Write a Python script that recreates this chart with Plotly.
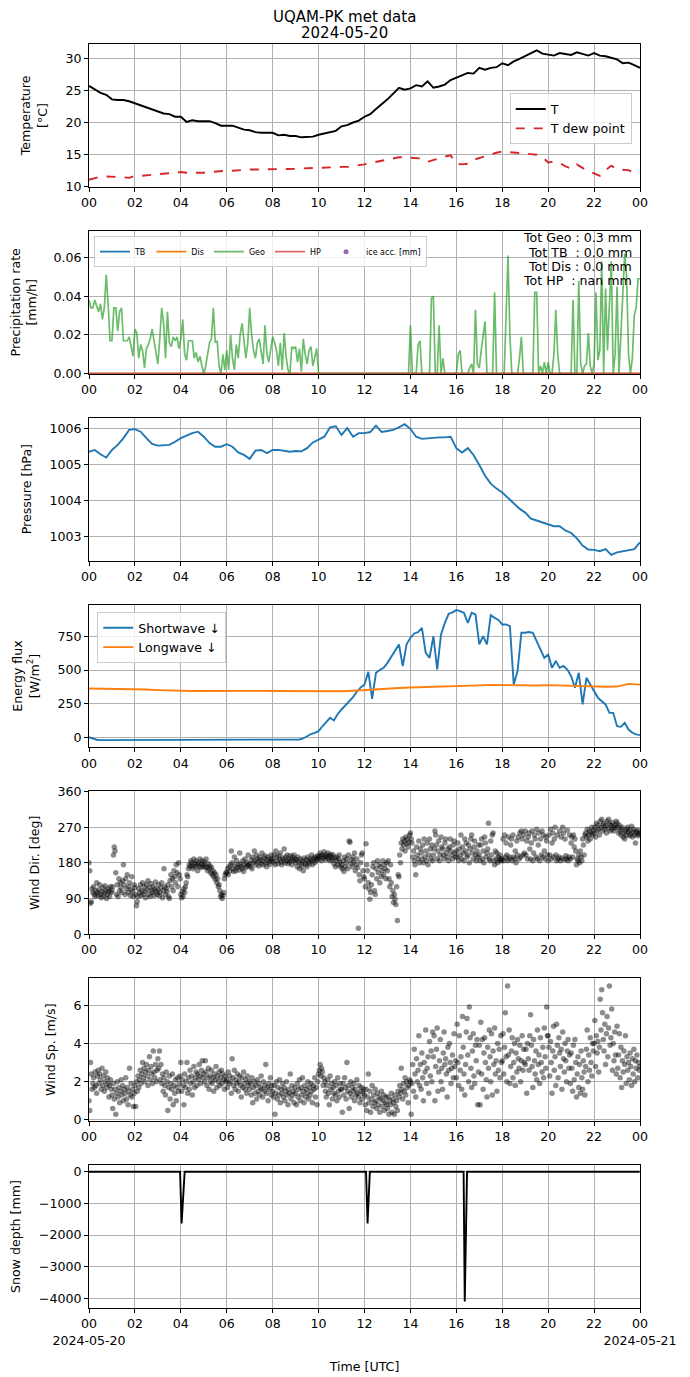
import pandas as pd
import plotly.graph_objects as go
from plotly.subplots import make_subplots

day = "2024-05-20"
next_day = "2024-05-21"
tick_hours = ["00", "02", "04", "06", "08", "10", "12", "14", "16", "18", "20", "22", "00"]

# temperature, 15 min steps
temp = [25.7, 25.1, 24.6, 24.3, 23.6, 23.5, 23.5, 23.3, 23.0, 22.7, 22.3, 22.1,
        21.75, 21.4, 21.3, 20.9, 20.9, 20.1, 20.35, 20.2, 20.2, 20.2, 19.9, 19.5,
        19.5, 19.5, 19.2, 18.9, 18.8, 18.5, 18.4, 18.4, 18.4, 18.0, 18.1, 17.9,
        17.9, 17.7, 17.7, 17.8, 18.1, 18.3, 18.5, 18.7, 19.4, 19.6, 20.0, 20.3,
        20.9, 21.3, 22.1, 22.8, 23.6, 24.5, 25.4, 25.1, 25.3, 25.8, 25.6, 26.4,
        25.4, 25.6, 25.9, 26.6, 27.0, 27.3, 27.7, 27.6, 28.5, 28.2, 28.5, 28.6,
        29.2, 28.9, 29.5, 29.9, 30.3, 30.7, 31.2, 30.7, 30.5, 30.4, 30.8, 30.6,
        30.5, 30.9, 30.6, 30.4, 30.8, 30.4, 30.3, 30.0, 29.8, 29.2, 29.3, 28.9, 28.5]
dew_point = [11.1, 11.4, 11.6, 11.6, 11.6, 11.5, 11.5, 11.4, 11.7, 11.7, 11.8, 11.8,
             12.0, 12.1, 12.2, 12.2, 12.3, 12.2, 12.2, 12.1, 12.2, 12.3, 12.4, 12.4,
             12.5, 12.5, 12.6, 12.6, 12.7, 12.7, 12.7, 12.7, 12.75, 12.8, 12.8, 12.8,
             12.8, 12.85, 12.9, 12.9, 13.0, 12.95, 13.0, 13.05, 13.1, 13.1, 13.2, 13.3,
             13.5, 13.7, 13.9, 14.1, 14.3, 14.5, 14.6, 14.6, 14.5, 14.4, 14.4, 13.9,
             14.2, 14.4, 14.7, 14.9, 13.6, 13.5, 13.6, 14.2, 14.5, 14.8, 15.0, 15.3,
             15.5, 15.4, 15.4, 15.2, 15.2, 15.0, 15.0, 14.6, 13.8, 13.9, 13.7, 13.2,
             12.8, 13.5, 13.0, 12.4, 12.1, 11.7, 12.6, 13.3, 12.7, 12.6, 12.6, 12.2, 12.3]

# geonor precipitation rate, 5 min steps (one row per hour)
precip_geo = [
    0.038, 0.034, 0.034, 0.038, 0.035, 0.032, 0.036, 0.028, 0.034, 0.051, 0.036, 0.017,
    0.017, 0.034, 0.034, 0.022, 0.032, 0.034, 0.017, 0.017, 0.017, 0.019, 0.013, 0.009,
    0.023, 0.021, 0.008, 0.015, 0.012, 0.003, 0.013, 0.015, 0.018, 0.023, 0.017, 0.010,
    0.005, 0.018, 0.034, 0.026, 0.008, 0.032, 0.016, 0.014, 0.019, 0.017, 0.019, 0.013,
    0.018, 0.028, 0.010, 0.007, 0.017, 0.017, 0.017, 0.008, 0.011, 0.006, 0.009, 0.004,
    0.000, 0.004, 0.010, 0.016, 0.018, 0.034, 0.016, 0.017, 0.004, 0.000, 0.010, 0.002,
    0.012, 0.002, 0.020, 0.008, 0.002, 0.015, 0.008, 0.020, 0.026, 0.018, 0.008, 0.016,
    0.034, 0.020, 0.012, 0.008, 0.016, 0.018, 0.010, 0.005, 0.025, 0.010, 0.006, 0.012,
    0.019, 0.016, 0.012, 0.004, 0.016, 0.002, 0.021, 0.009, 0.002, 0.000, 0.014, 0.013,
    0.014, 0.006, 0.013, 0.001, 0.018, 0.010, 0.005, 0.012, 0.014, 0.004, 0.008, 0.013,
    0.0, 0.0, 0.0, 0.0, 0.0, 0.0, 0.0, 0.0, 0.0, 0.0, 0.0, 0.0,
    0.0, 0.0, 0.0, 0.0, 0.0, 0.0, 0.0, 0.0, 0.0, 0.0, 0.0, 0.0,
    0.0, 0.0, 0.0, 0.0, 0.0, 0.0, 0.0, 0.0, 0.0, 0.0, 0.0, 0.0,
    0.0, 0.0, 0.0, 0.0, 0.0, 0.0, 0.0, 0.0, 0.0, 0.0, 0.0, 0.0,
    0.025, 0.0, 0.0, 0.0, 0.015, 0.017, 0.0, 0.0, 0.0, 0.0, 0.0, 0.039,
    0.040, 0.0, 0.0, 0.025, 0.0, 0.008, 0.0, 0.0, 0.0, 0.0, 0.0, 0.0,
    0.0, 0.010, 0.012, 0.0, 0.0, 0.0, 0.0, 0.003, 0.005, 0.0, 0.033, 0.005,
    0.003, 0.012, 0.020, 0.027, 0.0, 0.0, 0.0, 0.0, 0.042, 0.0, 0.0, 0.0,
    0.0, 0.0, 0.030, 0.061, 0.020, 0.0, 0.0, 0.0, 0.0, 0.008, 0.019, 0.0,
    0.0, 0.0, 0.0, 0.0, 0.0, 0.042, 0.042, 0.0, 0.004, 0.0, 0.006, 0.0,
    0.006, 0.0, 0.0, 0.010, 0.033, 0.010, 0.0, 0.0, 0.0, 0.0, 0.0, 0.0,
    0.0, 0.038, 0.0, 0.0, 0.048, 0.005, 0.0, 0.004, 0.005, 0.021, 0.004, 0.0,
    0.005, 0.042, 0.007, 0.012, 0.058, 0.0, 0.044, 0.012, 0.035, 0.058, 0.0, 0.010,
    0.045, 0.0, 0.020, 0.040, 0.062, 0.050, 0.010, 0.0, 0.008, 0.030, 0.034, 0.049,
    0.049]
precip_zero = [0.0, 0.0]
tot_labels = ["Tot Geo :", "Tot TB\u00a0 :", "Tot Dis :", "Tot HP\u00a0 :"]
tot_values = ["0.3", "0.0", "0.0", "nan"]

# pressure, 15 min steps
pressure = [1005.36, 1005.41, 1005.29, 1005.20, 1005.41, 1005.55, 1005.74, 1005.97, 1005.99, 1005.92, 1005.74, 1005.58,
            1005.53, 1005.55, 1005.55, 1005.64, 1005.74, 1005.81, 1005.88, 1005.92, 1005.78, 1005.60, 1005.50, 1005.50,
            1005.57, 1005.50, 1005.34, 1005.27, 1005.16, 1005.39, 1005.41, 1005.32, 1005.41, 1005.41, 1005.39, 1005.36,
            1005.38, 1005.37, 1005.46, 1005.62, 1005.70, 1005.78, 1006.04, 1006.07, 1005.83, 1006.02, 1005.78, 1005.88,
            1005.88, 1005.91, 1006.09, 1005.91, 1005.94, 1005.97, 1006.04, 1006.13, 1006.00, 1005.78, 1005.72, 1005.74,
            1005.75, 1005.76, 1005.76, 1005.78, 1005.46, 1005.34, 1005.46, 1005.27, 1004.99, 1004.69, 1004.47, 1004.33,
            1004.22, 1004.07, 1003.90, 1003.77, 1003.66, 1003.49, 1003.44, 1003.39, 1003.35, 1003.28, 1003.28, 1003.16,
            1003.09, 1002.94, 1002.74, 1002.63, 1002.62, 1002.58, 1002.64, 1002.48, 1002.55, 1002.58, 1002.60, 1002.64,
            1002.83]

# radiation, shortwave 10 min steps, longwave 30 min steps
shortwave = [5, -5, -14, -17, -17, -16, -16, -17, -17, -16, -17, -16,
             -16, -16, -15, -15, -16, -15, -15, -15, -15, -15, -14, -15,
             -15, -15, -14, -13, -12, -12, -12, -13, -13, -14, -14, -14,
             -14, -13, -13, -14, -14, -14, -14, -14, -14, -14, -14, -14,
             -14, -14, -14, -15, -15, -15, -15, -12, -5, 12, 28, 37,
             49, 85, 120, 148, 128, 175, 209, 240, 270, 300, 340, 372,
             393, 487, 288, 480, 500, 516, 553, 600, 640, 689, 529, 690,
             738, 770, 780, 811, 627, 590, 750, 504, 762, 848, 915, 925,
             942, 935, 922, 848, 922, 910, 689, 750, 689, 905, 885, 870,
             836, 836, 824, 393, 492, 775, 775, 780, 775, 713, 650, 590,
             615, 516, 566, 516, 530, 504, 455, 369, 480, 246, 443, 393,
             350, 295, 270, 246, 184, 184, 86, 81, 111, 61, 37, 25, 20]
longwave = [364, 363, 361, 360, 358, 356, 352, 348, 346, 345, 345, 346,
            346, 346, 346, 346, 345, 345, 343, 340, 340, 341, 343, 347,
            353, 357, 362, 367, 371, 373, 375, 376, 378, 382, 387, 390,
            388, 385, 387, 386, 389, 386, 383, 380, 378, 377, 378, 398, 392]

# wind, 2 min steps (one row per hour)
wind_dir = [
    180, 160, 78, 82, 115, 105, 120, 100, 95, 110, 130, 105, 98, 112, 125, 100, 92, 108, 118, 96, 104, 122, 110, 90, 100, 115, 108, 95, 120, 105,
    110, 120, 200, 220, 210, 155, 100, 125, 95, 140, 110, 130, 118, 105, 135, 175, 125, 100, 140, 115, 150, 105, 120, 130, 98, 112, 145, 108, 95, 125,
    118, 100, 72, 82, 95, 115, 105, 125, 98, 110, 130, 100, 120, 108, 92, 125, 112, 135, 100, 118, 95, 128, 110, 105, 120, 98, 115, 132, 108, 100,
    112, 125, 98, 105, 118, 130, 92, 110, 165, 120, 100, 115, 108, 125, 95, 90, 135, 150, 120, 140, 110, 160, 145, 130, 175, 155, 120, 180, 150, 140,
    100, 92, 108, 95, 115, 105, 120, 130, 150, 145, 165, 175, 170, 185, 180, 172, 165, 190, 178, 170, 185, 175, 160, 180, 172, 190, 168, 178, 185, 170,
    175, 182, 168, 190, 170, 160, 178, 165, 172, 155, 168, 150, 160, 145, 155, 138, 150, 130, 140, 120, 125, 110, 95, 100, 90, 98, 105, 140, 150, 155,
    155, 165, 150, 170, 160, 175, 210, 180, 165, 158, 195, 172, 160, 185, 168, 175, 162, 205, 178, 170, 165, 185, 158, 175, 190, 168, 180, 172, 200, 175,
    178, 170, 188, 165, 195, 180, 210, 185, 175, 200, 190, 182, 172, 195, 188, 178, 205, 185, 175, 192, 198, 180, 170, 188, 195, 182, 176, 190, 200, 185,
    190, 182, 200, 175, 210, 195, 185, 178, 198, 190, 205, 182, 175, 192, 188, 215, 180, 195, 185, 200, 178, 190, 182, 198, 188, 175, 195, 185, 200, 190,
    180, 188, 170, 195, 182, 165, 190, 178, 172, 185, 160, 192, 180, 175, 188, 170, 195, 182, 178, 190, 185, 200, 175, 188, 192, 180, 195, 185, 190, 198,
    195, 190, 205, 198, 185, 200, 192, 208, 196, 188, 200, 195, 205, 190, 198, 185, 202, 195, 188, 200, 178, 192, 170, 185, 195, 175, 190, 200, 182, 170,
    175, 165, 185, 158, 195, 170, 180, 190, 165, 200, 235, 232, 178, 188, 170, 195, 182, 205, 160, 175, 190, 168, 15, 150, 135, 180, 200, 205, 160, 145,
    140, 120, 228, 175, 160, 130, 115, 88, 105, 125, 150, 170, 180, 110, 100, 165, 140, 185, 155, 175, 130, 170, 145, 160, 185, 150, 175, 165, 140, 180,
    160, 185, 140, 120, 175, 130, 95, 110, 80, 100, 88, 75, 120, 35, 150, 145, 200, 180, 230, 215, 240, 225, 235, 210, 245, 228, 240, 220, 232, 250,
    255, 240, 230, 195, 210, 185, 175, 150, 220, 200, 190, 235, 180, 215, 205, 190, 225, 180, 240, 195, 210, 185, 230, 175, 200, 240, 215, 190, 225, 185,
    200, 215, 260, 250, 225, 190, 210, 235, 185, 200, 245, 220, 215, 200, 190, 230, 240, 205, 195, 215, 185, 220, 240, 210, 200, 190, 225, 235, 205, 195,
    210, 195, 230, 185, 215, 200, 250, 190, 220, 205, 185, 240, 210, 230, 195, 200, 225, 180, 215, 240, 250, 205, 190, 220, 235, 200, 185, 210, 195, 225,
    200, 185, 225, 240, 190, 210, 180, 245, 230, 195, 205, 215, 280, 190, 185, 235, 200, 250, 255, 185, 175, 210, 190, 205, 180, 195, 185, 200, 190, 185,
    190, 240, 185, 250, 195, 230, 200, 185, 245, 190, 195, 225, 240, 185, 250, 195, 190, 210, 180, 235, 200, 245, 190, 255, 195, 260, 240, 200, 250, 205,
    260, 200, 235, 190, 245, 255, 215, 190, 230, 260, 185, 205, 250, 240, 195, 265, 190, 225, 255, 185, 240, 200, 260, 195, 250, 210, 190, 245, 235, 200,
    185, 250, 200, 265, 190, 230, 255, 195, 240, 270, 200, 185, 250, 190, 195, 260, 185, 245, 192, 270, 255, 188, 240, 198, 190, 262, 185, 195, 250, 190,
    230, 245, 195, 250, 220, 240, 210, 175, 190, 185, 200, 180, 210, 195, 185, 240, 225, 200, 250, 255, 245, 265, 235, 250, 260, 240, 255, 270, 250, 262,
    255, 270, 245, 280, 260, 275, 265, 250, 285, 270, 290, 260, 275, 280, 265, 272, 255, 285, 268, 290, 278, 260, 275, 265, 282, 270, 260, 275, 268, 285,
    280, 270, 255, 275, 260, 250, 265, 270, 245, 255, 240, 260, 250, 265, 270, 258, 248, 262, 252, 272, 245, 258, 265, 250, 230, 260, 255, 248, 262, 252,
    255]
wind_speed = [
    1.0, 0.5, 3.0, 2.4, 1.6, 1.9, 2.2, 1.7, 2.5, 1.8, 1.4, 2.3, 2.6, 1.9, 2.4, 2.1, 1.6, 2.7, 1.8, 2.3, 1.5, 2.0, 2.5, 1.7, 2.2, 1.9, 1.2, 1.8, 2.1, 1.6,
    1.3, 0.6, 1.9, 1.1, 1.6, 0.3, 1.4, 2.0, 1.2, 1.7, 0.9, 1.5, 2.1, 1.3, 1.8, 1.0, 1.6, 1.4, 2.2, 1.1, 1.7, 0.8, 1.5, 2.7, 1.3, 1.9, 1.2, 1.6, 0.7, 1.4,
    1.8, 0.7, 2.0, 1.5, 2.3, 1.7, 2.1, 2.6, 1.9, 2.4, 3.0, 2.2, 2.7, 2.0, 2.5, 2.9, 2.3, 1.8, 2.6, 3.3, 2.1, 2.8, 2.4, 1.9, 3.6, 2.5, 2.2, 2.9, 2.0, 2.6,
    3.2, 2.7, 3.6, 2.1, 2.9, 1.9, 2.4, 1.5, 2.2, 1.8, 1.3, 2.5, 2.0, 0.5, 1.7, 2.3, 1.1, 1.9, 1.6, 2.4, 0.8, 1.8, 1.4, 2.1, 1.0, 1.7, 2.2, 1.5, 1.9, 2.3,
    3.0, 1.5, 2.1, 1.8, 0.8, 2.4, 1.7, 2.0, 3.0, 1.4, 2.2, 1.6, 2.6, 1.9, 2.3, 1.3, 2.0, 2.8, 1.7, 2.2, 2.5, 1.8, 2.4, 2.1, 2.9, 2.3, 1.9, 2.6, 3.1, 2.2,
    2.4, 2.0, 3.1, 2.5, 1.8, 2.2, 2.7, 1.6, 2.3, 2.0, 2.6, 1.9, 2.2, 1.5, 2.4, 2.1, 2.8, 1.7, 2.3, 2.0, 2.5, 1.8, 2.2, 2.6, 1.9, 2.4, 2.1, 1.6, 2.3, 2.0,
    2.1, 1.7, 2.5, 1.9, 2.3, 2.0, 1.4, 3.2, 2.2, 1.8, 2.6, 1.6, 2.1, 1.9, 2.4, 1.5, 2.0, 2.3, 1.8, 1.2, 2.2, 1.7, 2.5, 1.9, 1.6, 2.1, 1.4, 2.3, 1.8, 2.0,
    1.6, 1.9, 1.3, 2.2, 0.9, 1.7, 2.0, 1.4, 1.8, 1.1, 2.1, 1.5, 1.9, 1.3, 1.7, 2.3, 1.6, 1.2, 2.0, 1.5, 1.8, 2.9, 1.4, 1.7, 1.0, 1.9, 1.6, 2.2, 1.3, 1.8,
    1.5, 1.2, 1.8, 0.3, 1.4, 2.0, 1.1, 1.7, 1.3, 2.1, 0.9, 1.6, 1.4, 1.9, 1.2, 1.7, 1.0, 1.5, 2.0, 1.3, 0.8, 1.6, 1.4, 2.4, 1.1, 1.8, 1.3, 1.5, 0.9, 1.7,
    1.4, 0.8, 1.9, 1.2, 1.6, 2.1, 1.0, 1.7, 1.3, 2.2, 1.5, 0.9, 1.8, 1.2, 1.6, 1.4, 2.0, 1.1, 1.7, 1.3, 1.9, 1.5, 0.9, 1.8, 1.6, 2.2, 1.2, 1.7, 0.8, 2.0,
    2.4, 2.6, 2.9, 2.3, 2.7, 2.5, 1.8, 2.2, 2.0, 1.5, 1.2, 1.8, 2.1, 1.4, 0.8, 2.3, 1.6, 1.9, 1.1, 1.7, 1.4, 2.0, 1.3, 1.8, 1.0, 2.2, 1.5, 1.2, 1.9, 1.6,
    1.6, 0.4, 1.9, 1.3, 2.2, 1.7, 1.1, 3.0, 1.5, 1.8, 0.6, 1.4, 2.0, 1.2, 1.7, 1.5, 1.9, 1.0, 1.6, 1.3, 2.1, 1.4, 1.2, 1.8, 0.9, 1.5, 1.7, 1.1, 1.4, 1.6,
    1.3, 0.8, 1.6, 0.5, 1.2, 2.4, 0.9, 1.5, 0.4, 1.1, 1.8, 0.7, 1.3, 0.9, 1.6, 1.0, 0.6, 1.4, 0.8, 1.2, 0.4, 1.1, 1.5, 0.7, 1.0, 1.3, 0.5, 0.9, 1.2, 0.8,
    0.6, 1.2, 0.3, 1.0, 0.8, 1.4, 0.4, 1.1, 0.9, 0.3, 1.3, 0.7, 1.0, 0.5, 1.5, 1.2, 1.8, 1.4, 2.7, 1.6, 1.1, 1.9, 1.5, 2.2, 1.3, 2.0, 1.7, 0.9, 1.8, 2.1,
    2.0, 0.3, 1.9, 2.9, 1.5, 3.7, 2.4, 1.2, 3.2, 2.0, 2.6, 4.4, 1.8, 2.9, 1.6, 3.5, 2.2, 1.0, 3.0, 2.5, 4.7, 1.9, 2.7, 3.3, 1.4, 4.1, 2.3, 3.6, 2.0, 4.6,
    3.3, 4.4, 1.0, 2.8, 3.7, 4.8, 1.5, 2.5, 3.1, 4.2, 2.0, 2.7, 1.6, 3.5, 4.6, 2.9, 3.2, 2.4, 1.2, 3.8, 2.6, 4.0, 3.0, 1.9, 2.7, 3.4, 2.2, 4.5, 2.8, 3.1,
    2.2, 5.0, 3.0, 1.8, 4.4, 2.6, 3.3, 1.6, 5.4, 3.8, 2.4, 1.3, 2.9, 4.6, 5.3, 3.4, 2.0, 5.9, 4.3, 2.7, 1.7, 3.6, 4.5, 2.3, 1.9, 3.9, 3.1, 4.2, 0.8, 2.5,
    3.9, 0.8, 5.1, 2.4, 4.2, 1.6, 3.5, 4.3, 3.0, 2.1, 1.2, 3.8, 2.7, 4.7, 3.3, 2.0, 4.5, 1.3, 3.6, 2.9, 4.8, 2.4, 3.1, 1.5, 4.0, 2.6, 3.7, 2.2, 4.4, 3.0,
    3.1, 4.5, 2.4, 3.8, 5.6, 3.3, 2.0, 7.0, 3.4, 4.7, 1.9, 2.8, 3.6, 4.3, 2.2, 3.0, 4.0, 1.8, 3.5, 2.5, 4.2, 3.2, 2.7, 3.9, 2.0, 3.1, 4.4, 2.6, 3.7, 3.0,
    2.9, 3.7, 1.4, 4.0, 3.2, 2.6, 4.4, 5.5, 3.9, 2.8, 1.7, 4.2, 3.1, 2.4, 3.6, 2.1, 4.7, 2.9, 3.4, 1.9, 4.3, 3.0, 2.5, 3.8, 2.2, 4.8, 3.3, 2.7, 5.9, 4.4,
    4.4, 3.8, 2.3, 4.1, 3.0, 1.4, 3.6, 4.9, 2.6, 3.3, 1.8, 5.0, 3.9, 2.2, 4.3, 3.5, 2.8, 3.7, 1.6, 4.6, 3.2, 2.5, 4.0, 3.1, 2.0, 3.6, 4.2, 2.7, 3.4, 1.9,
    3.5, 2.7, 1.5, 3.9, 2.1, 4.2, 3.0, 1.2, 2.4, 3.3, 1.7, 2.9, 1.4, 3.6, 2.2, 1.6, 3.1, 2.5, 1.3, 2.8, 3.7, 4.7, 2.0, 3.4, 2.6, 4.3, 3.0, 2.3, 4.0, 3.6,
    4.0, 5.2, 2.8, 4.4, 3.5, 4.1, 2.5, 3.8, 6.3, 4.7, 6.8, 5.6, 4.2, 3.6, 5.0, 2.9, 4.5, 5.4, 3.3, 4.8, 7.0, 3.9, 4.3, 5.8, 2.6, 4.0, 3.1, 4.6, 3.4, 2.4,
    4.9, 2.7, 3.4, 4.5, 2.2, 3.8, 1.7, 3.1, 2.5, 3.6, 2.9, 4.4, 1.9, 3.3, 2.6, 3.0, 2.1, 3.5, 2.8, 1.8, 3.2, 2.4, 3.7, 2.0, 3.1, 2.7, 3.4, 2.2, 3.0, 2.6,
    2.8]

# snow depth readings
snow_time = ["00:00", "03:58", "04:02", "04:10", "12:04", "12:08", "12:14",
             "16:19", "16:22", "16:28", "23:59"]
snow_depth = [0, 0, -1630, 0, 0, -1630, 0, 0, -4100, 0, 0]

t15 = pd.date_range(day, periods=len(temp), freq="15min")
t5 = pd.date_range(day, periods=len(precip_geo), freq="5min")
t10 = pd.date_range(day, periods=len(shortwave), freq="10min")
t30 = pd.date_range(day, periods=len(longwave), freq="30min")
t2 = pd.date_range(day, periods=len(wind_dir), freq="2min")
t_full = [day + " 00:00", next_day + " 00:00"]
t_snow = pd.to_datetime([day + " " + s for s in snow_time])
tickvals = pd.date_range(day, periods=len(tick_hours), freq="2h")

FONT = "DejaVu Sans"
fig = make_subplots(rows=7, cols=1, vertical_spacing=44 / 1264)

# 1. temperature
fig.add_trace(go.Scatter(x=t15, y=temp, mode="lines", name="T",
                         line=dict(color="black", width=1.9)), row=1, col=1)
fig.add_trace(go.Scatter(x=t15, y=dew_point, mode="lines", name="T dew point",
                         line=dict(color="#d62728", width=1.9, dash="dash")), row=1, col=1)

# 2. precipitation
fig.add_trace(go.Scatter(x=t_full, y=precip_zero, mode="lines", name="TB", legend="legend2",
                         line=dict(color="#1f77b4", width=1.9)), row=2, col=1)
fig.add_trace(go.Scatter(x=t_full, y=precip_zero, mode="lines", name="Dis", legend="legend2",
                         line=dict(color="#ff7f0e", width=1.9)), row=2, col=1)
fig.add_trace(go.Scatter(x=t5, y=precip_geo, mode="lines", name="Geo", legend="legend2",
                         line=dict(color="rgba(44,160,44,0.7)", width=1.7)), row=2, col=1)
fig.add_trace(go.Scatter(x=t_full, y=precip_zero, mode="lines", name="HP", legend="legend2",
                         line=dict(color="rgba(214,39,40,0.7)", width=1.9)), row=2, col=1)
fig.add_trace(go.Scatter(x=[None], y=[None], mode="markers", name="ice acc. [mm]", legend="legend2",
                         marker=dict(color="#9467bd", size=5)), row=2, col=1)

# 3. pressure
fig.add_trace(go.Scatter(x=t15, y=pressure, mode="lines", showlegend=False,
                         line=dict(color="#1f77b4", width=1.9)), row=3, col=1)

# 4. radiation
fig.add_trace(go.Scatter(x=t10, y=shortwave, mode="lines", name="Shortwave \u2193", legend="legend3",
                         line=dict(color="#1f77b4", width=1.9)), row=4, col=1)
fig.add_trace(go.Scatter(x=t30, y=longwave, mode="lines", name="Longwave \u2193", legend="legend3",
                         line=dict(color="#ff7f0e", width=1.9)), row=4, col=1)

# 5-6. wind
fig.add_trace(go.Scatter(x=t2, y=wind_dir, mode="markers", showlegend=False,
                         marker=dict(color="rgba(0,0,0,0.45)", size=5.5)), row=5, col=1)
fig.add_trace(go.Scatter(x=t2, y=wind_speed, mode="markers", showlegend=False,
                         marker=dict(color="rgba(0,0,0,0.45)", size=5.5)), row=6, col=1)

# 7. snow depth
fig.add_trace(go.Scatter(x=t_snow, y=snow_depth, mode="lines", showlegend=False,
                         line=dict(color="black", width=1.9)), row=7, col=1)

y_titles = ["Temperature<br>[°C]", "Precipitation rate<br>[mm/h]", "Pressure [hPa]",
            "Energy flux<br>[W/m<sup>2</sup>]", "Wind Dir. [deg]", "Wind Sp. [m/s]", "Snow depth [mm]"]
y_ranges = [[10, 32.2], [0, 0.0737], [1002.32, 1006.31], [-71, 983],
            [0, 360], [-0.06, 7.4], [-4306, 211]]
y_dticks = [5, 0.02, 1, 250, 90, 2, 1000]

axis_style = dict(showline=True, linecolor="black", linewidth=1, mirror=True,
                  ticks="outside", ticklen=4, tickcolor="black", automargin=False,
                  showgrid=True, gridcolor="#b0b0b0", gridwidth=0.8, zeroline=False,
                  tickfont=dict(family=FONT, size=12.6, color="black"))

for i in range(7):
    row = i + 1
    ticktext = list(tick_hours)
    if row == 7:
        ticktext[0] = "00<br>" + day
        ticktext[-1] = "00<br>" + next_day
    fig.update_xaxes(range=t_full, tickvals=tickvals, ticktext=ticktext, tickangle=0,
                     row=row, col=1, **axis_style)
    fig.update_yaxes(range=y_ranges[i], dtick=y_dticks[i], tick0=0,
                     title=dict(text=y_titles[i], font=dict(family=FONT, size=12.6, color="black")),
                     row=row, col=1, **axis_style)

fig.update_yaxes(tickformat=".2f", row=2, col=1)
fig.update_xaxes(title=dict(text="Time [UTC]", font=dict(family=FONT, size=12.6, color="black")),
                 row=7, col=1)

# precipitation totals, one line each
for k, (lab, val) in enumerate(zip(tot_labels, tot_values)):
    fig.add_annotation(xref="x2 domain", yref="y2 domain", x=0.99, y=0.951 - 0.1 * k,
                       xanchor="right", yanchor="middle", showarrow=False,
                       text=lab + " " + val + " mm",
                       font=dict(family=FONT, size=12.6, color="black"))

# figure title, two lines
for text, ypos in [("UQAM-PK met data", 1 + 27.5 / 1264), (day, 1 + 11 / 1264)]:
    fig.add_annotation(xref="paper", yref="paper", x=0.4637, y=ypos,
                       xanchor="center", yanchor="middle", showarrow=False, text=text,
                       font=dict(family=FONT, size=15, color="black"))

# the page puts the figure about 8 px in from the top left corner
fig.update_layout(
    width=690, height=1377,
    margin=dict(l=81, r=58, t=36, b=77),
    paper_bgcolor="white", plot_bgcolor="white",
    font=dict(family=FONT, size=12.6, color="black"),
    legend=dict(x=0.985, y=0.961, xanchor="right", yanchor="top",
                bgcolor="rgba(255,255,255,0.8)", bordercolor="#cccccc", borderwidth=1,
                font=dict(family=FONT, size=12.6), tracegroupgap=2),
    legend2=dict(x=0.009, y=0.848, xanchor="left", yanchor="top", orientation="h",
                 bgcolor="rgba(255,255,255,0.8)", bordercolor="#cccccc", borderwidth=1,
                 font=dict(family=FONT, size=8)),
    legend3=dict(x=0.015, y=0.5506, xanchor="left", yanchor="top",
                 bgcolor="rgba(255,255,255,0.8)", bordercolor="#cccccc", borderwidth=1,
                 font=dict(family=FONT, size=12.6)),
)

fig.write_html("out.html")
